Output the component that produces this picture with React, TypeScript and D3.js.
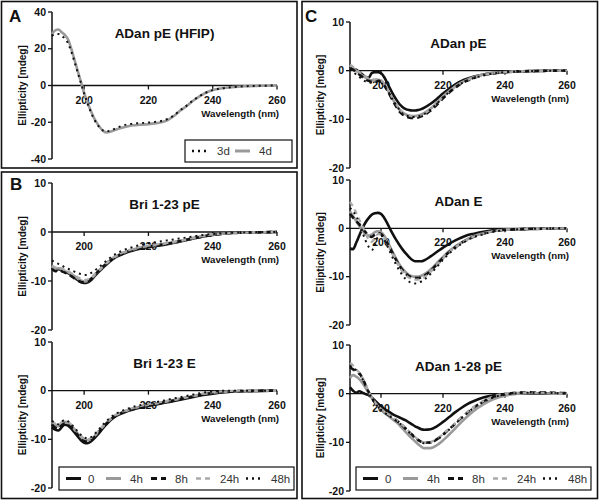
import React from 'react';
import * as d3 from 'd3';

// ---------- DATA ----------
const X_TICKS = [200, 220, 240, 260];
const Y_TICKS_A = [-40, -20, 0, 20, 40];
const Y_TICKS_BC = [-20, -10, 0, 10];
const LEGEND_DAYS = ['3d', '4d'];
const LEGEND_TIME = ['0', '4h', '8h', '24h', '48h'];

// Panel A: ADan pE (HFIP)
const WL_A = [190,191,192,193,194,195,196,197,198,199,200,201,202,203,204,205,206,207,208,210,212,214,216,218,220,222,224,226,228,230,232,234,236,238,240,243,246,250,255,260];
const A_4d = [28,30,30.5,29,27.5,25,20,14,8,2,-4,-9,-13.5,-17.5,-20.5,-23,-24.8,-25.5,-25.2,-24,-22.8,-22,-21.6,-21.3,-21,-20.6,-20,-18.8,-16.5,-13.5,-11,-8.2,-5.8,-3.8,-2.5,-1.5,-0.9,-0.4,-0.15,0];
const A_3d = [27,28,28,27,25.5,23,18.5,13,7,1.5,-4.5,-9.5,-14,-18,-21,-23.2,-24.6,-25,-24.6,-23.2,-21.8,-21,-20.6,-20.4,-20.2,-19.8,-19.3,-18.2,-16.2,-13.3,-10.8,-8,-5.7,-3.8,-2.5,-1.5,-0.9,-0.4,-0.15,0];

// Panel B: Bri 1-23 pE / Bri 1-23 E
const WL_B = [190,191,192,193,194,195,196,197,198,199,200,201,202,203,204,206,208,210,212,214,216,218,220,222,225,228,231,234,237,240,244,248,252,256,260];
const B1_0 = [-7.3,-7.8,-7.6,-7.8,-8.2,-8.4,-8.8,-9.3,-9.8,-10.2,-10.4,-10.3,-9.9,-9.2,-8.5,-7.2,-6,-5.1,-4.5,-4,-3.6,-3.3,-3.1,-2.9,-2.6,-2.2,-1.8,-1.3,-0.9,-0.6,-0.3,-0.15,-0.1,-0.05,0];
const B1_4h = [-7,-7.5,-7.4,-7.6,-8,-8.2,-8.6,-9,-9.5,-9.9,-10.1,-10,-9.6,-9,-8.3,-7,-5.8,-4.9,-4.3,-3.8,-3.4,-3.1,-2.9,-2.7,-2.4,-2.1,-1.7,-1.2,-0.8,-0.5,-0.3,-0.15,-0.1,-0.05,0];
const B1_8h = [-7.5,-8,-7.8,-8,-8.3,-8.6,-9,-9.5,-9.9,-10.2,-10.3,-10.1,-9.7,-9,-8.3,-7,-5.9,-5,-4.4,-3.9,-3.5,-3.2,-3,-2.8,-2.5,-2.1,-1.7,-1.3,-0.9,-0.6,-0.3,-0.15,-0.1,-0.05,0];
const B1_24h = [-6.8,-7.2,-7.2,-7.4,-7.8,-8,-8.4,-8.8,-9.2,-9.6,-9.8,-9.7,-9.4,-8.8,-8.1,-6.9,-5.7,-4.8,-4.2,-3.7,-3.3,-3,-2.8,-2.6,-2.3,-2,-1.6,-1.2,-0.8,-0.5,-0.3,-0.15,-0.1,-0.05,0];
const B1_48h = [-5.8,-6.2,-6.5,-6.8,-7.2,-7.5,-7.8,-8.1,-8.4,-8.6,-8.8,-8.7,-8.4,-8,-7.5,-6.4,-5.3,-4.4,-3.8,-3.3,-2.9,-2.6,-2.3,-2.1,-1.8,-1.5,-1.2,-0.9,-0.6,-0.4,-0.2,-0.1,-0.05,0,0];

const B2_0 = [-7.5,-8,-8.2,-7.5,-7,-7.2,-7.8,-8.6,-9.4,-10.2,-10.7,-10.8,-10.5,-9.9,-9.2,-7.6,-6.2,-5.2,-4.6,-4.1,-3.7,-3.4,-3.1,-2.9,-2.5,-2.1,-1.7,-1.3,-0.9,-0.6,-0.3,-0.15,-0.1,-0.05,0];
const B2_4h = [-6.5,-7,-7.3,-6.8,-6.4,-6.6,-7.2,-8,-8.8,-9.5,-10,-10.2,-10,-9.5,-8.8,-7.3,-6,-5,-4.4,-3.9,-3.5,-3.2,-2.9,-2.7,-2.3,-1.9,-1.5,-1.1,-0.7,-0.4,-0.2,-0.1,-0.05,0,0];
const B2_8h = [-7,-7.6,-7.8,-7.1,-6.7,-6.9,-7.5,-8.3,-9.1,-9.9,-10.4,-10.5,-10.2,-9.7,-9,-7.4,-6.1,-5.1,-4.5,-4,-3.6,-3.3,-3,-2.8,-2.4,-2,-1.6,-1.2,-0.8,-0.5,-0.25,-0.1,-0.05,0,0];
const B2_24h = [-6.3,-6.8,-7,-6.5,-6.2,-6.4,-7,-7.8,-8.6,-9.3,-9.8,-10,-9.8,-9.3,-8.6,-7.1,-5.8,-4.9,-4.3,-3.8,-3.4,-3.1,-2.8,-2.6,-2.2,-1.8,-1.4,-1,-0.6,-0.3,-0.1,0,0,0,0];
const B2_48h = [-6.2,-6.6,-6.9,-6.4,-6,-6.3,-6.9,-7.6,-8.4,-9.1,-9.6,-9.8,-9.6,-9.1,-8.4,-6.9,-5.6,-4.7,-4.1,-3.6,-3.2,-2.9,-2.6,-2.4,-2,-1.6,-1.2,-0.8,-0.4,-0.2,0,0,0,0,0];

// Panel C: ADan pE / ADan E / ADan 1-28 pE
const WL_C = [190,191,192,193,194,195,196,197,198,199,200,201,202,203,204,205,206,207,208,209,210,211,212,213,214,216,218,220,222,224,226,228,230,233,236,240,244,248,252,256,260];
const C1_0 = [0.8,0.3,0.2,-0.3,-0.8,-1.3,-1.5,-0.5,-0.3,-0.3,-0.5,-1.3,-2.5,-3.8,-5,-6,-6.9,-7.5,-7.9,-8.1,-8.2,-8.2,-8.1,-7.9,-7.6,-6.8,-5.8,-4.7,-3.7,-2.8,-2.1,-1.6,-1.2,-0.8,-0.5,-0.3,-0.15,-0.1,-0.05,0,0];
const C1_4h = [1,0.5,0,-0.5,-1,-1.4,-1.8,-2,-2,-1.9,-2.1,-2.8,-3.8,-5,-6.1,-7.1,-8,-8.6,-9,-9.2,-9.3,-9.3,-9.2,-9,-8.7,-7.8,-6.6,-5.3,-4.2,-3.2,-2.4,-1.8,-1.3,-0.8,-0.5,-0.3,-0.15,-0.1,-0.05,0,0];
const C1_8h = [0.5,0.2,-0.3,-0.8,-1.3,-1.8,-2.1,-2.3,-2.2,-2.1,-2.3,-3,-4,-5.2,-6.4,-7.5,-8.4,-9,-9.4,-9.6,-9.7,-9.7,-9.6,-9.4,-9.1,-8.2,-7,-5.7,-4.5,-3.5,-2.6,-2,-1.5,-0.9,-0.6,-0.3,-0.15,-0.1,-0.05,0,0];
const C1_24h = [1.2,0.8,0.2,-0.3,-0.8,-1.2,-1.6,-1.8,-1.8,-1.7,-1.9,-2.6,-3.6,-4.8,-6,-7,-7.9,-8.6,-9,-9.2,-9.4,-9.4,-9.3,-9.1,-8.8,-7.9,-6.7,-5.4,-4.3,-3.3,-2.5,-1.9,-1.4,-0.9,-0.5,-0.3,-0.15,-0.1,0,0,0];
const C1_48h = [0.3,-0.2,-0.8,-1.3,-1.8,-2.2,-2.4,-2.5,-2.4,-2.3,-2.5,-3.1,-4,-5.1,-6.2,-7.2,-8.1,-8.8,-9.2,-9.4,-9.5,-9.5,-9.4,-9.2,-8.9,-8,-6.8,-5.5,-4.4,-3.4,-2.6,-2,-1.5,-1,-0.6,-0.3,-0.2,-0.1,0,0,0];

const C2_0 = [-4.2,-4.3,-3,-1.5,0,1.2,2.1,2.8,3.1,3.2,3,2.2,1.1,-0.2,-1.4,-2.5,-3.5,-4.4,-5.2,-5.9,-6.5,-6.8,-6.8,-6.8,-6.6,-5.8,-4.9,-4,-3.2,-2.5,-1.9,-1.4,-1.1,-0.7,-0.4,-0.3,-0.2,-0.15,-0.1,-0.05,0];
const C2_4h = [3.5,2.5,1.5,0.5,-0.5,-1.2,-1.5,-1.3,-0.8,-0.6,-0.8,-1.5,-2.6,-3.9,-5.2,-6.4,-7.5,-8.4,-9.1,-9.6,-9.9,-10,-10,-9.8,-9.5,-8.5,-7.2,-5.9,-4.7,-3.7,-2.9,-2.2,-1.6,-1,-0.6,-0.3,-0.2,-0.1,-0.1,0,0];
const C2_8h = [3,2.2,1.5,0.8,0,-0.8,-1.5,-1.8,-1.3,-1,-1.2,-1.9,-3,-4.2,-5.5,-6.7,-7.8,-8.7,-9.4,-9.9,-10.2,-10.3,-10.3,-10.1,-9.8,-8.8,-7.5,-6.1,-4.9,-3.9,-3,-2.3,-1.7,-1.1,-0.6,-0.3,-0.2,-0.1,-0.1,0,0];
const C2_24h = [5.5,4.5,3.2,1.8,0.5,-1,-2.3,-2.8,-2,-1.2,-1.3,-2,-3.1,-4.4,-5.7,-7,-8.1,-9,-9.7,-10.2,-10.5,-10.6,-10.6,-10.4,-10.1,-9,-7.7,-6.3,-5,-3.9,-3,-2.3,-1.7,-1.1,-0.6,-0.3,-0.2,-0.1,-0.1,0,0];
const C2_48h = [4.2,3.5,2.5,1,-0.8,-2.5,-3.8,-4.5,-3.5,-1.8,-1.5,-2.3,-3.6,-5,-6.4,-7.7,-8.8,-9.8,-10.5,-11,-11.3,-11.4,-11.3,-11,-10.6,-9.4,-8,-6.5,-5.2,-4.1,-3.2,-2.4,-1.8,-1.2,-0.7,-0.4,-0.2,-0.1,-0.1,0,0];

const C3_0 = [1.3,0.6,0.2,0.5,0.2,-0.1,-0.3,-0.8,-1.4,-2,-2.6,-3.1,-3.5,-3.9,-4.3,-4.6,-4.9,-5.2,-5.5,-5.9,-6.3,-6.7,-7,-7.3,-7.4,-7.3,-6.7,-5.8,-4.8,-3.8,-2.9,-2.1,-1.5,-0.8,-0.4,-0.1,0,0,0,0,0];
const C3_4h = [3.2,3.8,3.5,3,2.2,1.2,0.2,-0.8,-1.8,-2.6,-3.3,-3.9,-4.4,-4.9,-5.4,-5.9,-6.5,-7.2,-7.9,-8.6,-9.2,-9.8,-10.4,-10.9,-11.2,-11.2,-10.6,-9.6,-8.4,-7.1,-5.8,-4.6,-3.5,-2.2,-1.2,-0.4,0,0.1,0.1,0,0];
const C3_8h = [5.5,5,4.6,4.2,3.2,1.8,0.4,-0.8,-1.8,-2.6,-3.2,-3.7,-4.2,-4.6,-5.1,-5.5,-6,-6.6,-7.2,-7.8,-8.4,-9,-9.5,-9.9,-10.1,-10,-9.4,-8.4,-7.3,-6.1,-4.9,-3.8,-2.8,-1.6,-0.7,-0.1,0.2,0.3,0.3,0.2,0.1];
const C3_24h = [6.3,5.8,5,4.3,3.3,2,0.6,-0.7,-1.7,-2.5,-3.1,-3.6,-4.1,-4.5,-5,-5.4,-5.9,-6.5,-7.1,-7.7,-8.3,-8.9,-9.4,-9.8,-10,-9.9,-9.3,-8.3,-7.2,-6,-4.8,-3.7,-2.7,-1.5,-0.6,0,0.2,0.2,0.2,0.1,0];
const C3_48h = [5.8,5.2,4.8,4,3,1.7,0.3,-0.9,-1.9,-2.7,-3.3,-3.8,-4.3,-4.7,-5.2,-5.6,-6.1,-6.7,-7.3,-7.9,-8.5,-9.1,-9.6,-10,-10.2,-10.1,-9.5,-8.5,-7.4,-6.2,-5,-3.9,-2.9,-1.7,-0.8,-0.2,0.1,0.2,0.2,0.1,0];

// ---------- STYLES ----------
const FONT = '"Liberation Sans", Arial, sans-serif';
type Sty = { stroke: string; width: number; dash?: string };
const STYLES: Record<string, Sty> = {
  '0': { stroke: '#111', width: 2.6 },
  '4h': { stroke: '#9a9a9a', width: 2.6 },
  '8h': { stroke: '#111', width: 2.6, dash: '6,4' },
  '24h': { stroke: '#aaaaaa', width: 2.2, dash: '5,4' },
  '48h': { stroke: '#111', width: 2, dash: '2,4' },
  '3d': { stroke: '#111', width: 2, dash: '2,4' },
  '4d': { stroke: '#9a9a9a', width: 2.6 },
};

type Series = { key: string; values: number[] };

function Plot(props: {
  x0: number; x1: number; yTop: number; yBot: number;
  yDomain: [number, number]; yTicks: number[]; title: string;
  wl: number[]; series: Series[];
}) {
  const { x0, x1, yTop, yBot, yDomain, yTicks, title, wl, series } = props;
  const x = d3.scaleLinear().domain([190, 260]).range([x0, x1]);
  const y = d3.scaleLinear().domain(yDomain).range([yBot, yTop]);
  const y0 = y(0);
  const line = d3.line<number>()
    .x((_, i) => x(wl[i]))
    .y((d) => y(d))
    .curve(d3.curveMonotoneX);
  const midY = (yTop + yBot) / 2;
  return (
    <g>
      <line x1={x0} x2={x0} y1={yTop} y2={yBot} stroke="#111" strokeWidth={1.5} />
      {yTicks.map((t) => (
        <g key={'yt' + t}>
          <line x1={x0 - 4} x2={x0} y1={y(t)} y2={y(t)} stroke="#111" strokeWidth={1.3} />
          <text x={x0 - 6} y={y(t)} dy="0.35em" textAnchor="end" fontSize={10.5} fontWeight="bold" fontFamily={FONT} fill="#111">{t}</text>
        </g>
      ))}
      <text transform={`translate(${x0 - 30},${midY}) rotate(-90)`} textAnchor="middle" dy="0.35em" fontSize={10} fontWeight="bold" fontFamily={FONT} fill="#111">Ellipticity [mdeg]</text>
      <line x1={x0} x2={x1} y1={y0} y2={y0} stroke="#111" strokeWidth={1.3} />
      {X_TICKS.map((t) => (
        <g key={'xt' + t}>
          <line x1={x(t)} x2={x(t)} y1={y0} y2={y0 + 4} stroke="#111" strokeWidth={1.3} />
          <text x={x(t)} y={y0 + 18} textAnchor="middle" fontSize={10.5} fontWeight="bold" fontFamily={FONT} fill="#111">{t}</text>
        </g>
      ))}
      <text x={x1 + 2} y={y0 + 31} textAnchor="end" fontSize={9.7} fontWeight="bold" fontFamily={FONT} fill="#111">Wavelength (nm)</text>
      <text x={(x0 + x1) / 2} y={yTop + 26} textAnchor="middle" fontSize={13.5} fontWeight="bold" fontFamily={FONT} fill="#111">{title}</text>
      {series.map((s) => {
        const st = STYLES[s.key];
        return (
          <path key={s.key} d={line(s.values) || ''} fill="none" stroke={st.stroke} strokeWidth={st.width} strokeDasharray={st.dash} strokeLinejoin="round" />
        );
      })}
    </g>
  );
}

function Legend(props: { x: number; y: number; w: number; h: number; keys: string[]; lineOff: number[]; textOff: number[] }) {
  const { x, y, w, h, keys, lineOff, textOff } = props;
  const cy = y + h / 2;
  return (
    <g>
      <rect x={x} y={y} width={w} height={h} fill="#fff" stroke="#111" strokeWidth={1.2} />
      {keys.map((k, i) => {
        const st = STYLES[k];
        return (
          <g key={k}>
            <line x1={x + lineOff[i]} x2={x + lineOff[i] + 15} y1={cy} y2={cy} stroke={st.stroke} strokeWidth={st.width + 0.4} strokeDasharray={st.dash} />
            <text x={x + textOff[i]} y={cy} dy="0.35em" fontSize={11.5} fontFamily={FONT} fill="#333">{k}</text>
          </g>
        );
      })}
    </g>
  );
}

export default function App() {
  const mk = (vals: number[][]): Series[] => LEGEND_TIME.map((k, i) => ({ key: k, values: vals[i] }));
  return (
    <svg width={600} height={501} style={{ position: 'absolute', left: 0, top: 0, background: '#fff' }}>
      <rect x={0} y={0} width={600} height={501} fill="#fff" />
      <rect x={1.5} y={1.5} width={295.5} height={166.5} fill="none" stroke="#111" strokeWidth={1.6} />
      <rect x={1.5} y={172} width={295.5} height={326.5} fill="none" stroke="#111" strokeWidth={1.6} />
      <rect x={302} y={1.5} width={295.5} height={497} fill="none" stroke="#111" strokeWidth={1.6} />
      <text x={9} y={22} fontSize={17} fontWeight="bold" fontFamily={FONT} fill="#111">A</text>
      <text x={10} y={190} fontSize={17} fontWeight="bold" fontFamily={FONT} fill="#111">B</text>
      <text x={305} y={22} fontSize={17} fontWeight="bold" fontFamily={FONT} fill="#111">C</text>

      <Plot x0={52} x1={277} yTop={12} yBot={159} yDomain={[-40, 40]} yTicks={Y_TICKS_A} title="ADan pE (HFIP)" wl={WL_A}
        series={[{ key: '4d', values: A_4d }, { key: '3d', values: A_3d }]} />
      <Legend x={185} y={140} w={107} h={22} keys={LEGEND_DAYS} lineOff={[7, 50]} textOff={[32, 74]} />

      <Plot x0={52} x1={277} yTop={183} yBot={330} yDomain={[-20, 10]} yTicks={Y_TICKS_BC} title="Bri 1-23 pE" wl={WL_B}
        series={mk([B1_0, B1_4h, B1_8h, B1_24h, B1_48h])} />
      <Plot x0={52} x1={277} yTop={342} yBot={488} yDomain={[-20, 10]} yTicks={Y_TICKS_BC} title="Bri 1-23 E" wl={WL_B}
        series={mk([B2_0, B2_4h, B2_8h, B2_24h, B2_48h])} />
      <Legend x={59} y={467} w={235} h={23} keys={LEGEND_TIME} lineOff={[7, 47, 92, 137, 187]} textOff={[29, 71, 116, 161, 212]} />

      <Plot x0={350} x1={567} yTop={22} yBot={168} yDomain={[-20, 10]} yTicks={Y_TICKS_BC} title="ADan pE" wl={WL_C}
        series={mk([C1_0, C1_4h, C1_8h, C1_24h, C1_48h])} />
      <Plot x0={350} x1={567} yTop={180} yBot={325} yDomain={[-20, 10]} yTicks={Y_TICKS_BC} title="ADan E" wl={WL_C}
        series={mk([C2_0, C2_4h, C2_8h, C2_24h, C2_48h])} />
      <Plot x0={350} x1={567} yTop={345} yBot={491} yDomain={[-20, 10]} yTicks={Y_TICKS_BC} title="ADan 1-28 pE" wl={WL_C}
        series={mk([C3_0, C3_4h, C3_8h, C3_24h, C3_48h])} />
      <Legend x={356} y={467} w={235} h={23} keys={LEGEND_TIME} lineOff={[7, 47, 92, 137, 187]} textOff={[29, 71, 116, 161, 212]} />
    </svg>
  );
}
